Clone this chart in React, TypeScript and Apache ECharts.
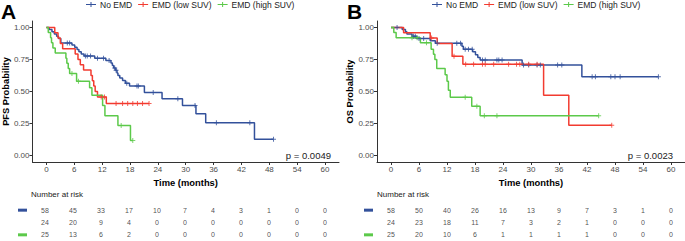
import React, { useEffect, useRef } from 'react';
import * as echarts from 'echarts';

const GROUPS = ['No EMD', 'EMD (low SUV)', 'EMD (high SUV)'];
const COLORS = ['#33519B', '#F23B30', '#5CC94A'];
const TIME_TICKS = [0, 6, 12, 18, 24, 30, 36, 42, 48, 54, 60];
const PROB_TICKS = [0, 0.25, 0.5, 0.75, 1];

// Panel A: progression-free survival
const PFS_NO_EMD: [number, number][] = [[0.6,0.983],[1.2,0.966],[1.7,0.948],[2.2,0.931],[2.6,0.914],[3.1,0.879],[5.5,0.862],[6.1,0.845],[6.6,0.828],[7.0,0.810],[7.5,0.793],[8.1,0.776],[10.4,0.759],[12.8,0.741],[13.9,0.722],[14.2,0.703],[14.5,0.684],[14.9,0.665],[15.2,0.645],[15.4,0.625],[15.8,0.605],[16.4,0.585],[17.0,0.565],[17.9,0.542],[21.1,0.492],[24.9,0.443],[29.3,0.390],[32.2,0.327],[34.3,0.257],[44.8,0.128]];
const PFS_NO_EMD_END = 48.9;
const PFS_NO_EMD_CENSOR = [4.5,5.0,8.4,8.8,9.5,11.0,12.3,13.5,14.7,15.0,17.3,19.5,19.8,23.0,28.3,32.0,36.6,43.8,48.9];

const PFS_LOW: [number, number][] = [[1.8,0.958],[2.5,0.917],[3.0,0.875],[3.5,0.833],[6.2,0.792],[6.8,0.75],[7.3,0.708],[8.0,0.667],[9.6,0.625],[9.9,0.583],[10.2,0.542],[10.5,0.5],[11.0,0.458],[12.9,0.407]];
const PFS_LOW_END = 22.1;
const PFS_LOW_CENSOR = [11.8,12.5,15.0,16.4,17.5,18.6,19.6,20.7,22.1];

const PFS_HIGH: [number, number][] = [[0.4,0.96],[0.9,0.92],[1.1,0.88],[1.4,0.84],[1.9,0.80],[4.2,0.76],[4.4,0.72],[4.7,0.68],[5.0,0.64],[6.5,0.58],[9.3,0.53],[9.8,0.47],[12.1,0.39],[12.6,0.31],[15.4,0.235],[18.1,0.117]];
const PFS_HIGH_END = 18.6;
const PFS_HIGH_CENSOR = [5.5,6.9,16.1,18.6];

const PFS_RISK_NO_EMD = [58,45,33,17,10,7,4,3,1,0,0];
const PFS_RISK_LOW = [24,20,9,4,0,0,0,0,0,0,0];
const PFS_RISK_HIGH = [25,13,6,2,0,0,0,0,0,0,0];
const PFS_P = 'p = 0.0049';

// Panel B: overall survival
const OS_NO_EMD: [number, number][] = [[2.4,0.983],[3.1,0.966],[3.4,0.948],[4.5,0.931],[5.5,0.914],[8.4,0.895],[9.5,0.877],[15.2,0.853],[15.5,0.83],[17.5,0.81],[18.1,0.787],[18.6,0.766],[19.1,0.745],[28.1,0.707],[40.9,0.615]];
const OS_NO_EMD_END = 57.3;
const OS_NO_EMD_CENSOR = [1.3,4.8,5.2,6.0,7.0,9.9,14.1,14.9,15.9,16.6,17.4,19.6,20.2,22.7,23.1,23.8,28.4,29.5,31.3,32.0,35.7,36.6,43.1,43.8,47.1,48.0,49.1,57.3];

const OS_LOW: [number, number][] = [[2.7,0.958],[8.4,0.917],[9.9,0.875],[13.1,0.775],[15.4,0.712],[32.7,0.471],[38.1,0.236]];
const OS_LOW_END = 47.3;
const OS_LOW_CENSOR = [8.7,13.5,16.0,17.7,19.6,20.2,22.0,25.2,26.9,27.6,29.5,31.3,47.3];

const OS_HIGH: [number, number][] = [[0.6,0.96],[1.1,0.92],[6.3,0.88],[8.6,0.83],[9.1,0.79],[9.4,0.75],[9.8,0.68],[11.6,0.63],[12.0,0.58],[12.3,0.51],[12.7,0.455],[17.3,0.385],[19.1,0.31]];
const OS_HIGH_END = 44.5;
const OS_HIGH_CENSOR = [4.5,5.6,7.6,15.9,18.4,20.0,22.7,44.5];

const OS_RISK_NO_EMD = [58,50,40,26,16,13,9,7,3,1,0];
const OS_RISK_LOW = [24,23,18,11,7,3,2,1,0,0,0];
const OS_RISK_HIGH = [25,20,10,6,1,1,1,1,0,0,0];
const OS_P = 'p = 0.0023';

const FONT = 'Liberation Sans, Arial, sans-serif';
const PLUS = 'path://M0,2H5V3H0Z M2,0H3V5H2Z';
const LEGEND_ICON = 'path://M0,2H10V3H0Z M4.5,0H5.5V5H4.5Z';

type Curve = { events: [number, number][]; end: number; censor: number[]; risk: number[] };

const PANELS: { curves: Curve[]; yName: string; p: string }[] = [
  {
    yName: 'PFS Probability',
    p: PFS_P,
    curves: [
      { events: PFS_NO_EMD, end: PFS_NO_EMD_END, censor: PFS_NO_EMD_CENSOR, risk: PFS_RISK_NO_EMD },
      { events: PFS_LOW, end: PFS_LOW_END, censor: PFS_LOW_CENSOR, risk: PFS_RISK_LOW },
      { events: PFS_HIGH, end: PFS_HIGH_END, censor: PFS_HIGH_CENSOR, risk: PFS_RISK_HIGH },
    ],
  },
  {
    yName: 'OS Probability',
    p: OS_P,
    curves: [
      { events: OS_NO_EMD, end: OS_NO_EMD_END, censor: OS_NO_EMD_CENSOR, risk: OS_RISK_NO_EMD },
      { events: OS_LOW, end: OS_LOW_END, censor: OS_LOW_CENSOR, risk: OS_RISK_LOW },
      { events: OS_HIGH, end: OS_HIGH_END, censor: OS_HIGH_CENSOR, risk: OS_RISK_HIGH },
    ],
  },
];

function survAt(events: [number, number][], t: number) {
  let s = 1;
  for (const [et, es] of events) if (et <= t) s = es;
  return s;
}

const PLOT_LEFT = [31, 377];
const PLOT_W = 308;

export default function App() {
  const ref = useRef<HTMLDivElement>(null);
  useEffect(() => {
    if (!ref.current) return;
    const chart = echarts.init(ref.current, null, { renderer: 'svg' });
    const grids: any[] = [];
    const xAxes: any[] = [];
    const yAxes: any[] = [];
    const series: any[] = [];

    PANELS.forEach((panel, pi) => {
      const plotIdx = pi * 2;
      const riskIdx = pi * 2 + 1;
      // plot grid
      grids.push({ left: PLOT_LEFT[pi], top: 21, width: PLOT_W, height: 141 });
      xAxes.push({
        type: 'value', gridIndex: plotIdx, min: -3, max: 63,
        name: 'Time (months)', nameLocation: 'middle', nameGap: 11,
        nameTextStyle: { fontFamily: FONT, fontWeight: 'bold', fontSize: 9.4, color: '#000' },
        axisLine: { onZero: false, lineStyle: { color: '#333', width: 1 } },
        axisTick: { length: 3, customValues: TIME_TICKS, lineStyle: { color: '#333' } },
        axisLabel: { customValues: TIME_TICKS, margin: 3, fontFamily: FONT, fontSize: 8, color: '#4D4D4D' },
        splitLine: { show: false },
      });
      yAxes.push({
        type: 'value', gridIndex: plotIdx, min: -0.05, max: 1.05,
        name: panel.yName, nameLocation: 'middle', nameGap: 22, nameRotate: 90,
        nameTextStyle: { fontFamily: FONT, fontWeight: 'bold', fontSize: 9.3, color: '#000' },
        axisLine: { show: true, onZero: false, lineStyle: { color: '#333', width: 1 } },
        axisTick: { show: true, length: 3, customValues: PROB_TICKS, lineStyle: { color: '#333' } },
        axisLabel: { customValues: PROB_TICKS, margin: 3, fontFamily: FONT, fontSize: 8, color: '#4D4D4D', formatter: (v: number) => v.toFixed(2) },
        splitLine: { show: false },
      });
      // risk table grid
      grids.push({ left: PLOT_LEFT[pi], top: 204, width: PLOT_W, height: 41 });
      xAxes.push({ type: 'value', gridIndex: riskIdx, min: -3, max: 63, show: false });
      yAxes.push({
        type: 'category', gridIndex: riskIdx, data: GROUPS, inverse: true,
        axisLine: { show: false, onZero: false }, axisTick: { show: false }, splitLine: { show: false },
        axisLabel: {
          margin: 4,
          formatter: (_v: string, i: number) => `{c${i}|}`,
          rich: {
            c0: { width: 9, height: 3, backgroundColor: COLORS[0] },
            c1: { width: 9, height: 3, backgroundColor: COLORS[1] },
            c2: { width: 9, height: 3, backgroundColor: COLORS[2] },
          },
        },
      });

      panel.curves.forEach((c, gi) => {
        const last = c.events.length ? c.events[c.events.length - 1][1] : 1;
        series.push({
          type: 'line', name: GROUPS[gi], xAxisIndex: plotIdx, yAxisIndex: plotIdx,
          step: 'end', symbol: 'none', showSymbol: false, silent: true,
          data: [[0, 1], ...c.events, [c.end, last]],
          lineStyle: { width: 1.5, color: COLORS[gi] },
          itemStyle: { color: COLORS[gi] },
          z: 3,
        });
        series.push({
          type: 'scatter', name: GROUPS[gi] + ' censored', xAxisIndex: plotIdx, yAxisIndex: plotIdx,
          symbol: PLUS, symbolSize: 5, silent: true,
          itemStyle: { color: COLORS[gi], opacity: 0.8 },
          data: c.censor.map((t) => [t, survAt(c.events, t)]),
          z: 4,
        });
        series.push({
          type: 'scatter', name: 'risk ' + gi, xAxisIndex: riskIdx, yAxisIndex: riskIdx,
          symbolSize: 1, silent: true, itemStyle: { color: 'transparent' },
          data: TIME_TICKS.map((t, i) => [t, GROUPS[gi], c.risk[i]]),
          label: {
            show: true, position: 'inside', formatter: (p: any) => String(p.value[2]),
            fontFamily: FONT, fontSize: 7, color: '#222',
          },
        });
      });
    });

    const legendBase = {
      top: 0, padding: 0, itemGap: 6, itemWidth: 10, itemHeight: 5,
      icon: LEGEND_ICON, data: GROUPS,
      textStyle: { fontFamily: FONT, fontSize: 8.5, color: '#222', padding: [0, 0, 0, -1] },
      selectedMode: false,
    };

    chart.setOption({
      animation: false,
      backgroundColor: '#fff',
      legend: [
        { ...legendBase, left: 86 },
        { ...legendBase, left: 432 },
      ],
      grid: grids,
      xAxis: xAxes,
      yAxis: yAxes,
      series,
      graphic: [
        { type: 'text', x: 1, y: 11, style: { text: 'A', font: `bold 21px ${FONT}`, fill: '#000', verticalAlign: 'middle' } },
        { type: 'text', x: 347, y: 11, style: { text: 'B', font: `bold 21px ${FONT}`, fill: '#000', verticalAlign: 'middle' } },
        { type: 'text', x: 31, y: 194, style: { text: 'Number at risk', font: `8px ${FONT}`, fill: '#222', verticalAlign: 'middle' } },
        { type: 'text', x: 377, y: 194, style: { text: 'Number at risk', font: `8px ${FONT}`, fill: '#222', verticalAlign: 'middle' } },
        { type: 'text', x: 331, y: 155, style: { text: PANELS[0].p, font: `9.5px ${FONT}`, fill: '#222', align: 'right', verticalAlign: 'middle' } },
        { type: 'text', x: 673, y: 155, style: { text: PANELS[1].p, font: `9.5px ${FONT}`, fill: '#222', align: 'right', verticalAlign: 'middle' } },
      ],
    });
    return () => chart.dispose();
  }, []);

  return <div ref={ref} style={{ position: 'fixed', left: 0, top: 0, width: 685, height: 241 }} />;
}
